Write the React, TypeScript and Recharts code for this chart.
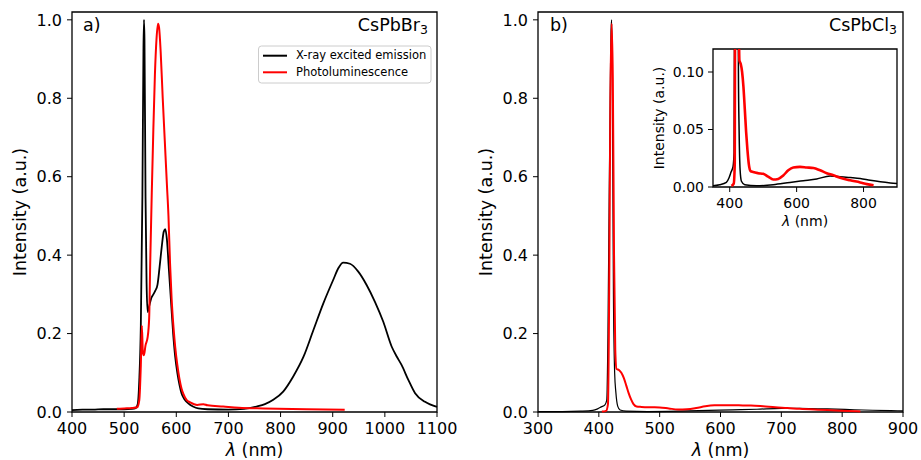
import { LineChart, Line, XAxis, YAxis, ReferenceArea } from 'recharts';

const font = '"DejaVu Sans", Verdana, sans-serif';
const RED = '#ff0000';

// a) CsPbBr3 — X-ray excited emission
const brXrayNm = [400, 420, 440, 460, 480, 500, 515, 522, 526, 529, 532, 535, 537, 538, 539, 541, 543, 545, 548, 552, 556, 560, 564, 568, 572, 576, 579, 582, 586, 588, 590, 594, 598, 602, 606, 610, 616, 623, 632, 642, 660, 700, 730, 754, 770, 786, 805, 824, 844, 863, 882, 901, 911, 920, 933, 949, 965, 981, 997, 1013, 1023, 1032, 1045, 1058, 1077, 1100];
const brXrayInt = [0.005, 0.006, 0.006, 0.007, 0.007, 0.007, 0.008, 0.01, 0.02, 0.08, 0.22, 0.55, 0.92, 1.0, 0.95, 0.55, 0.33, 0.255, 0.27, 0.29, 0.3, 0.31, 0.325, 0.37, 0.42, 0.46, 0.466, 0.44, 0.36, 0.32, 0.28, 0.2, 0.14, 0.1, 0.07, 0.048, 0.032, 0.022, 0.014, 0.009, 0.007, 0.006, 0.008, 0.014, 0.02, 0.031, 0.052, 0.09, 0.141, 0.209, 0.277, 0.337, 0.367, 0.381, 0.378, 0.358, 0.324, 0.281, 0.23, 0.167, 0.141, 0.12, 0.082, 0.048, 0.026, 0.013];

// a) CsPbBr3 — photoluminescence
const brPlNm = [486, 500, 515, 525, 529, 532, 534, 536, 538, 541, 545, 548, 550, 553, 556, 559, 562, 565, 567, 570, 574, 578, 582, 585, 588, 591, 595, 598, 602, 606, 610, 614, 620, 626, 640, 652, 660, 690, 720, 767, 850, 923];
const brPlInt = [0.008, 0.009, 0.01, 0.012, 0.03, 0.12, 0.22, 0.15, 0.145, 0.17, 0.19, 0.24, 0.38, 0.56, 0.72, 0.86, 0.95, 0.99, 0.98, 0.92, 0.8, 0.69, 0.58, 0.5, 0.38, 0.29, 0.21, 0.165, 0.12, 0.085, 0.06, 0.045, 0.03, 0.025, 0.018, 0.02, 0.017, 0.014, 0.011, 0.009, 0.007, 0.006];

// b) CsPbCl3 — X-ray excited emission
const clXrayNm = [300, 340, 370, 390, 398, 404, 410, 413, 415, 417, 419, 420, 421, 422, 423, 424, 426, 428, 431, 435, 445, 480, 530, 580, 620, 660, 700, 730, 760, 790, 820, 850, 880, 900];
const clXrayInt = [0.001, 0.001, 0.002, 0.004, 0.008, 0.013, 0.018, 0.03, 0.2, 0.55, 0.85, 0.97, 1.0, 0.9, 0.6, 0.3, 0.1, 0.05, 0.015, 0.005, 0.002, 0.001, 0.002, 0.004, 0.0055, 0.007, 0.0095, 0.009, 0.0082, 0.0073, 0.0058, 0.0045, 0.0035, 0.003];

// b) CsPbCl3 — photoluminescence
const clPlNm = [405, 412, 415, 417, 419, 421, 423, 425, 427, 429, 433, 437, 441, 445, 449, 453, 457, 462, 470, 485, 500, 515, 530, 545, 560, 575, 590, 610, 630, 650, 670, 690, 710, 730, 760, 790, 810, 830];
const clPlInt = [0.001, 0.003, 0.02, 0.3, 0.8, 0.99, 0.85, 0.4, 0.16, 0.11, 0.107, 0.1, 0.087, 0.068, 0.048, 0.032, 0.02, 0.014, 0.013, 0.012, 0.0115, 0.009, 0.0065, 0.007, 0.01, 0.0145, 0.017, 0.0175, 0.017, 0.0165, 0.0145, 0.012, 0.0102, 0.008, 0.0058, 0.004, 0.0025, 0.0015];

const brTicksX = [400, 500, 600, 700, 800, 900, 1000, 1100];
const clTicksX = [300, 400, 500, 600, 700, 800, 900];
const mainTicksY = [0, 0.2, 0.4, 0.6, 0.8, 1.0];
const insetTicksX = [400, 600, 800];
const insetTicksY = [0, 0.05, 0.1];

const seriesNames = ['X-ray excited emission', 'Photoluminescence'];
const seriesColors = ['#000000', RED];

const pts = (nm: number[], v: number[]) => nm.map((x, i) => ({ x, y: v[i] }));

const brXray = pts(brXrayNm, brXrayInt);
const brPl = pts(brPlNm, brPlInt);
const clXray = pts(clXrayNm, clXrayInt);
const clPl = pts(clPlNm, clPlInt);

function LambdaLabel(props: any) {
  const { viewBox, dy, size } = props;
  return (
    <text x={viewBox.x + viewBox.width / 2} y={viewBox.y + dy} textAnchor="middle" fontSize={size} fontFamily={font} fill="#000">
      <tspan fontStyle="italic">λ</tspan> (nm)
    </text>
  );
}

function IntensityLabel(props: any) {
  const { viewBox, dx, size } = props;
  const x = viewBox.x + dx;
  const y = viewBox.y + viewBox.height / 2;
  return (
    <text x={x} y={y} transform={`rotate(-90 ${x} ${y})`} textAnchor="middle" fontSize={size} fontFamily={font} fill="#000">
      Intensity (a.u.)
    </text>
  );
}

const tickStyle = (size: number) => ({ fill: '#000', fontSize: size, fontFamily: font });

export default function App() {
  return (
    <div style={{ position: 'absolute', left: 0, top: 0, width: 921, height: 460, background: '#fff', overflow: 'hidden' }}>
      {/* a) CsPbBr3 */}
      <div style={{ position: 'absolute', left: 0, top: 0 }}>
        <LineChart width={460} height={460} margin={{ top: 12, right: 23, bottom: 0, left: 0 }}>
          <XAxis
            type="number"
            dataKey="x"
            domain={[400, 1100]}
            ticks={brTicksX}
            interval={0}
            height={48}
            axisLine={false}
            tickSize={5}
            tickMargin={6}
            tickLine={{ stroke: '#000' }}
            tick={tickStyle(16)}
            label={<LambdaLabel dy={44} size={17.5} />}
          />
          <YAxis
            type="number"
            domain={[0, 1.02]}
            ticks={mainTicksY}
            interval={0}
            width={72}
            axisLine={false}
            tickSize={5}
            tickMargin={5}
            tickLine={{ stroke: '#000' }}
            tick={tickStyle(16)}
            tickFormatter={(v: number) => v.toFixed(1)}
            label={<IntensityLabel dx={26} size={17.5} />}
          />
          <Line data={brXray} dataKey="y" type="monotone" stroke={seriesColors[0]} strokeWidth={1.8} dot={false} isAnimationActive={false} />
          <Line data={brPl} dataKey="y" type="monotone" stroke={seriesColors[1]} strokeWidth={2} dot={false} isAnimationActive={false} />
          <ReferenceArea x1={400} x2={1100} y1={0} y2={1.02} fill="none" stroke="#000" strokeWidth={1.3} ifOverflow="visible" />
        </LineChart>
      </div>

      {/* b) CsPbCl3 */}
      <div style={{ position: 'absolute', left: 460, top: 0 }}>
        <LineChart width={461} height={460} margin={{ top: 12, right: 18, bottom: 0, left: 0 }}>
          <XAxis
            type="number"
            dataKey="x"
            domain={[300, 900]}
            ticks={clTicksX}
            interval={0}
            height={48}
            axisLine={false}
            tickSize={5}
            tickMargin={6}
            tickLine={{ stroke: '#000' }}
            tick={tickStyle(16)}
            label={<LambdaLabel dy={44} size={17.5} />}
          />
          <YAxis
            type="number"
            domain={[0, 1.02]}
            ticks={mainTicksY}
            interval={0}
            width={78}
            axisLine={false}
            tickSize={5}
            tickMargin={5}
            tickLine={{ stroke: '#000' }}
            tick={tickStyle(16)}
            tickFormatter={(v: number) => v.toFixed(1)}
            label={<IntensityLabel dx={32} size={17.5} />}
          />
          <Line data={clXray} dataKey="y" type="monotone" stroke={seriesColors[0]} strokeWidth={1.2} dot={false} isAnimationActive={false} />
          <Line data={clPl} dataKey="y" type="monotone" stroke={seriesColors[1]} strokeWidth={2} dot={false} isAnimationActive={false} />
          <ReferenceArea x1={300} x2={900} y1={0} y2={1.02} fill="none" stroke="#000" strokeWidth={1.3} ifOverflow="visible" />
        </LineChart>
      </div>

      {/* b) inset */}
      <div style={{ position: 'absolute', left: 640, top: 40 }}>
        <LineChart width={260} height={200} margin={{ top: 9, right: 3, bottom: 0, left: 0 }}>
          <ReferenceArea x1={350} x2={900} y1={0} y2={0.12} fill="#fff" fillOpacity={1} stroke="none" />
          <XAxis
            type="number"
            dataKey="x"
            domain={[350, 900]}
            allowDataOverflow
            ticks={insetTicksX}
            interval={0}
            height={53}
            axisLine={false}
            tickSize={5}
            tickMargin={6}
            tickLine={{ stroke: '#000' }}
            tick={tickStyle(14)}
            label={<LambdaLabel dy={39} size={14} />}
          />
          <YAxis
            type="number"
            domain={[0, 0.12]}
            allowDataOverflow
            ticks={insetTicksY}
            interval={0}
            width={73}
            axisLine={false}
            tickSize={5}
            tickMargin={4}
            tickLine={{ stroke: '#000' }}
            tick={tickStyle(14)}
            tickFormatter={(v: number) => v.toFixed(2)}
            label={<IntensityLabel dx={24} size={14} />}
          />
          <Line data={clXray} dataKey="y" type="monotone" stroke={seriesColors[0]} strokeWidth={1.5} dot={false} isAnimationActive={false} />
          <Line data={clPl} dataKey="y" type="monotone" stroke={seriesColors[1]} strokeWidth={2.6} dot={false} isAnimationActive={false} />
          <ReferenceArea x1={350} x2={900} y1={0} y2={0.12} fill="none" stroke="#000" strokeWidth={1.3} ifOverflow="visible" />
        </LineChart>
      </div>

      {/* panel annotations and legend */}
      <svg width={921} height={460} style={{ position: 'absolute', left: 0, top: 0, pointerEvents: 'none' }} fontFamily={font} fill="#000">
        <text x={83} y={31} fontSize={17.5}>a)</text>
        <text x={428} y={31} fontSize={17.5} textAnchor="end">
          CsPbBr<tspan fontSize={12.5} dy={3}>3</tspan>
        </text>
        <text x={550} y={31} fontSize={17.5}>b)</text>
        <text x={897} y={31} fontSize={17.5} textAnchor="end">
          CsPbCl<tspan fontSize={12.5} dy={3}>3</tspan>
        </text>
        <rect x={258.5} y={46} width={172.5} height={37} rx={3} fill="#fff" fillOpacity={0.8} stroke="#cccccc" strokeWidth={1} />
        {seriesNames.map((name, i) => (
          <g key={name}>
            <line x1={263} x2={287} y1={55.7 + i * 16.6} y2={55.7 + i * 16.6} stroke={seriesColors[i]} strokeWidth={2} />
            <text x={296} y={59.2 + i * 16.6} fontSize={11.5}>{name}</text>
          </g>
        ))}
      </svg>
    </div>
  );
}
